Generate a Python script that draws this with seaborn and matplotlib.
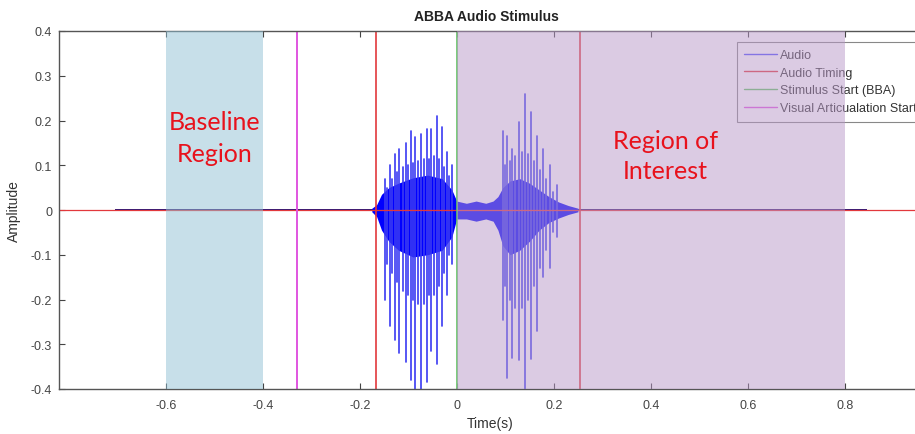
import matplotlib
matplotlib.use("Agg")
import matplotlib.pyplot as plt
from matplotlib.lines import Line2D
import numpy as np
import pandas as pd
import seaborn as sns

# timing markers (s)
baseline_region = (-0.6, -0.4)
roi_region = (0.0, 0.8)
visual_start = -0.33
stim_start = 0.0
audio_timing = [-0.167, 0.255]

# low-level background noise of the recording
noise_t = [-0.705, 0.847]
noise_amp = [0.0025, 0.0025]

# dense part of the waveform (envelope)
env_t = [-0.175, -0.165, -0.155, -0.14, -0.12, -0.09, -0.06, -0.03, -0.01, 0.0,
         0.02, 0.04, 0.06, 0.075, 0.085, 0.095, 0.11, 0.13, 0.15, 0.17, 0.19,
         0.21, 0.23, 0.25]
env_hi = [0.004, 0.012, 0.035, 0.05, 0.06, 0.072, 0.078, 0.07, 0.045, 0.02,
          0.015, 0.02, 0.015, 0.02, 0.03, 0.05, 0.065, 0.07, 0.06, 0.045, 0.03,
          0.018, 0.01, 0.004]
env_lo = [-0.004, -0.015, -0.045, -0.07, -0.09, -0.105, -0.10, -0.09, -0.06, -0.02,
          -0.02, -0.025, -0.02, -0.025, -0.045, -0.08, -0.10, -0.09, -0.07, -0.045,
          -0.028, -0.018, -0.01, -0.004]

# main pitch-period peaks, "BB" then "A"
peak_t = [-0.148, -0.138, -0.128, -0.118, -0.105, -0.095, -0.085, -0.074, -0.062,
          -0.052, -0.041, -0.031, -0.021, -0.010,
          0.095, 0.103, 0.115, 0.128, 0.140, 0.153, 0.165, 0.177, 0.192, 0.206]
peak_hi = [0.07, 0.10, 0.125, 0.136, 0.15, 0.176, 0.163, 0.17, 0.18, 0.18,
           0.21, 0.185, 0.13, 0.10,
           0.176, 0.165, 0.136, 0.197, 0.26, 0.22, 0.165, 0.136, 0.10, 0.055]
peak_lo = [-0.20, -0.26, -0.29, -0.32, -0.34, -0.38, -0.40, -0.40, -0.385, -0.315,
           -0.345, -0.26, -0.19, -0.12,
           -0.245, -0.375, -0.33, -0.335, -0.40, -0.333, -0.27, -0.15, -0.13, -0.06]

# smaller peaks between the main ones
minor_t = [-0.143, -0.133, -0.123, -0.111, -0.100, -0.090, -0.080, -0.068, -0.057,
           -0.047, -0.036, -0.026, -0.016,
           0.099, 0.109, 0.121, 0.134, 0.146, 0.159, 0.171, 0.184, 0.199]
minor_hi = [0.05, 0.07, 0.085, 0.095, 0.10, 0.105, 0.11, 0.115, 0.115, 0.12,
            0.115, 0.095, 0.075,
            0.10, 0.11, 0.12, 0.13, 0.125, 0.11, 0.09, 0.07, 0.04]
minor_lo = [-0.12, -0.14, -0.16, -0.18, -0.19, -0.20, -0.21, -0.21, -0.19, -0.19,
            -0.17, -0.14, -0.10,
            -0.17, -0.20, -0.22, -0.22, -0.20, -0.17, -0.13, -0.09, -0.05]

legend_labels = ["Audio", "Audio Timing", "Stimulus Start (BBA)", "Visual Articualation Start"]
c_audio = "#0000ff"
c_timing = "#e2383c"
c_stim = "#62c462"
c_visual = "#e055e0"

sns.set_theme(style="white")
plt.rcParams["font.family"] = ["Liberation Sans", "DejaVu Sans"]

fig = plt.figure(figsize=(9.15, 4.35), dpi=100)
ax = fig.add_axes([59 / 915, 1 - 390 / 435, 1.82 * 485 / 915, 358 / 435])

# audio
ax.fill_between(noise_t, [-a for a in noise_amp], noise_amp, color="#2a1a7a", lw=0, zorder=1)
ax.fill_between(env_t, env_lo, env_hi, color=c_audio, lw=0, zorder=1.2)
peaks = pd.DataFrame({
    "t": minor_t + minor_t + peak_t + peak_t,
    "amp": minor_hi + minor_lo + peak_hi + peak_lo,
    "peak": list(range(len(minor_t))) * 2
            + list(range(len(minor_t), len(minor_t) + len(peak_t))) * 2,
})
sns.lineplot(data=peaks, x="t", y="amp", units="peak", estimator=None, sort=False,
             color="#3a3af2", lw=1.2, ax=ax, zorder=1.3, legend=False)

# markers
ax.axhline(0, color=c_timing, lw=0.9, zorder=1.5)
for t in audio_timing:
    ax.axvline(t, color=c_timing, lw=1.2, zorder=1.6)
ax.axvline(stim_start, color=c_stim, lw=1.2, zorder=1.6)
ax.axvline(visual_start, color=c_visual, lw=1.4, zorder=1.6)

handles = [Line2D([], [], color=c, lw=1) for c in ["#5050ff", c_timing, c_stim, c_visual]]
leg = ax.legend(handles, legend_labels, loc="upper left", bbox_to_anchor=(0.768, 0.970),
                borderaxespad=0, fontsize=9, frameon=True, fancybox=False, framealpha=1,
                edgecolor="#888888", handlelength=2.6, handletextpad=0.25,
                labelspacing=0.45, borderpad=0.6)
leg.get_frame().set_linewidth(0.8)
for txt in leg.get_texts():
    txt.set_color("#333333")
leg.set_zorder(2)

# regions drawn on top, as in the original figure
ax.axvspan(*baseline_region, color="#91c1d5", alpha=0.5, lw=0, zorder=3)
ax.axvspan(*roi_region, color="#b999c9", alpha=0.5, lw=0, zorder=3)

ax.text(-0.5, 0.162, "Baseline\nRegion", color="#e8121c", fontsize=18, ha="center",
        va="center", family=["Lato", "DejaVu Sans"], linespacing=1.45, zorder=4)
ax.text(0.431, 0.122, "Region of\nInterest", color="#e8121c", fontsize=18, ha="center",
        va="center", family=["Lato", "DejaVu Sans"], linespacing=1.4, zorder=4)

ax.set_xlim(-0.82, 1.0)
ax.set_ylim(-0.4, 0.4)
ax.set_xticks([-0.6, -0.4, -0.2, 0, 0.2, 0.4, 0.6, 0.8])
ax.set_xticklabels(["-0.6", "-0.4", "-0.2", "0", "0.2", "0.4", "0.6", "0.8"])
yt = [-0.4, -0.3, -0.2, -0.1, 0, 0.1, 0.2, 0.3, 0.4]
ax.set_yticks(yt)
ax.set_yticklabels(["0" if v == 0 else f"{v:.1f}" for v in yt])
ax.tick_params(axis="both", direction="in", length=4, width=0.8, colors="#444444",
               labelsize=9, top=True, right=True, bottom=True, left=True)
ax.tick_params(axis="x", pad=7)
ax.tick_params(axis="y", pad=5)
for s in ax.spines.values():
    s.set_color("#555555")
    s.set_linewidth(1)

ax.set_xlabel("Time(s)", fontsize=10, color="#333333")
ax.set_ylabel("Amplitude", fontsize=10, color="#333333")
ax.xaxis.set_label_coords((490 - 59) / 883, -0.075)
ax.yaxis.set_label_coords(-0.043, 0.5)
fig.text(486 / 915, 1 - 17 / 435, "ABBA Audio Stimulus", ha="center", va="center",
         fontsize=10, fontweight="bold", color="#222222")

fig.savefig("out.png", dpi=100)
